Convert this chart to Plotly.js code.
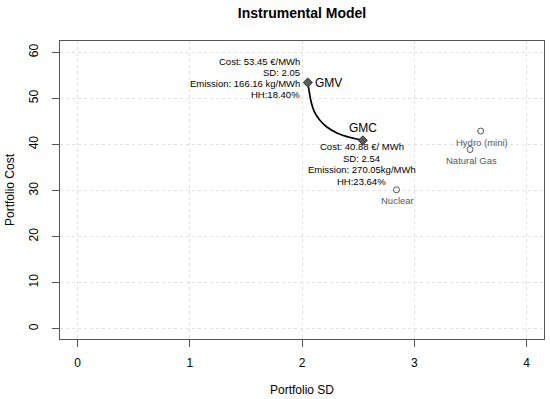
<!DOCTYPE html>
<html>
<head>
<meta charset="utf-8">
<script src="https://cdn.plot.ly/plotly-3.0.1.min.js"></script>
<style>html,body{margin:0;padding:0;background:#fff}#chart{width:550px;height:399px}</style>
</head>
<body>
<div id="chart"></div>
<script>
// Efficient frontier between GMV and GMC
const frontierSD   = [2.05, 2.06, 2.08, 2.11, 2.16, 2.22, 2.31, 2.43, 2.54];
const frontierCost = [53.45, 51.9, 49.2, 47.0, 45.2, 43.8, 42.5, 41.5, 40.88];

// Named portfolios
const portNames = ["GMV", "GMC"];
const portSD    = [2.05, 2.54];
const portCost  = [53.45, 40.88];
const gmvLines = ["Cost: 53.45 €/MWh", "SD: 2.05", "Emission: 166.16 kg/MWh", "HH:18.40%"];
const gmcLines = ["Cost: 40.88 €/ MWh", "SD: 2.54", "Emission: 270.05kg/MWh", "HH:23.64%"];

// Single technologies
const techNames = ["Hydro (mini)", "Natural Gas", "Nuclear"];
const techSD    = [3.59, 3.495, 2.84];
const techCost  = [42.9, 38.9, 30.15];

// Axis ticks
const xTicks = [0, 1, 2, 3, 4];
const yTicks = [0, 10, 20, 30, 40, 50, 60];

const FONT = "Liberation Sans, Arial, sans-serif";

const traces = [
  {x: frontierSD, y: frontierCost, mode: "lines", type: "scatter",
   line: {color: "#000", width: 1.7, shape: "spline", smoothing: 1}, hoverinfo: "skip"},
  {x: portSD, y: portCost, mode: "markers", type: "scatter",
   marker: {symbol: "diamond", size: 7, color: "#5a5a5a", line: {color: "#333", width: 1}}},
  {x: techSD, y: techCost, mode: "markers", type: "scatter",
   marker: {symbol: "circle-open", size: 6, color: "#555", line: {width: 1}}}
];

const annotations = [];
const gmvShifts = [20.7, 9.7, -0.9, -11.9];
gmvLines.forEach((t, i) => annotations.push({
  x: portSD[0], y: portCost[0], text: t, showarrow: false, xanchor: "right", yanchor: "middle",
  xshift: -6, yshift: gmvShifts[i], font: {family: FONT, size: 9.5, color: "#000"}
}));
const gmcShifts = [-6.6, -17.8, -29.4, -40.9];
gmcLines.forEach((t, i) => annotations.push({
  x: portSD[1], y: portCost[1], text: t, showarrow: false, xanchor: "center", yanchor: "middle",
  xshift: -1, yshift: gmcShifts[i], font: {family: FONT, size: 9.5, color: "#000"}
}));
annotations.push({x: portSD[0], y: portCost[0], text: portNames[0], showarrow: false,
  xanchor: "left", yanchor: "middle", xshift: 5, yshift: 0, font: {family: FONT, size: 12, color: "#000"}});
annotations.push({x: portSD[1], y: portCost[1], text: portNames[1], showarrow: false,
  xanchor: "center", yanchor: "middle", xshift: 0, yshift: 12, font: {family: FONT, size: 12, color: "#000"}});
techNames.forEach((t, i) => annotations.push({
  x: techSD[i], y: techCost[i], text: t, showarrow: false, xanchor: "center", yanchor: "middle",
  xshift: 1, yshift: -11, font: {family: FONT, size: 9.5, color: "#4f5966"}
}));

const axisCommon = {
  showline: true, mirror: true, linecolor: "#555", linewidth: 1,
  ticks: "outside", ticklen: 7, tickcolor: "#555", tickwidth: 1,
  showgrid: true, gridcolor: "#e2e2e2", griddash: "dot", gridwidth: 1,
  zeroline: false, tickfont: {family: FONT, size: 12, color: "#000"}
};

const layout = {
  width: 550, height: 399,
  margin: {l: 60, r: 6, t: 41, b: 60},
  paper_bgcolor: "#fff", plot_bgcolor: "#fff",
  showlegend: false,
  title: {text: "<b>Instrumental Model</b>", x: 0.5, xref: "paper", y: 1 - 13/399, yref: "container",
          yanchor: "middle", font: {family: FONT, size: 14, color: "#000"}},
  xaxis: Object.assign({}, axisCommon, {
    range: [-0.157, 4.154], tickvals: xTicks, ticktext: xTicks.map(String),
    ticklabelstandoff: 6,
    title: {text: "Portfolio SD", standoff: 16, font: {family: FONT, size: 12, color: "#000"}}
  }),
  yaxis: Object.assign({}, axisCommon, {
    range: [-2.24, 62.46], tickvals: yTicks, ticktext: yTicks.map(String),
    tickangle: -90, ticklabelstandoff: 9,
    title: {text: "Portfolio Cost", standoff: 10, font: {family: FONT, size: 12, color: "#000"}}
  }),
  annotations: annotations
};

Plotly.newPlot("chart", traces, layout, {displayModeBar: false, staticPlot: true});
</script>
</body>
</html>
